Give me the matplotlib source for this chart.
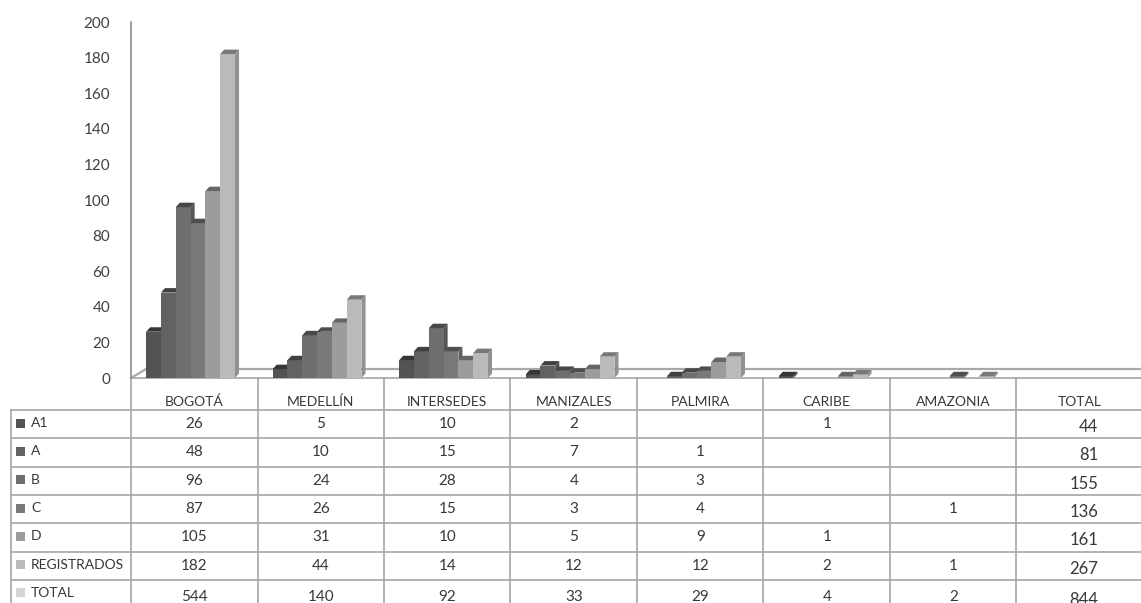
import matplotlib.pyplot as plt
import matplotlib.transforms as mtransforms
from matplotlib.patches import Polygon, Rectangle
from matplotlib.colors import to_rgb

plt.rcParams['font.family'] = ['Lato', 'DejaVu Sans']

# data (blank cells = None)
categories = ["BOGOTÁ", "MEDELLÍN", "INTERSEDES", "MANIZALES", "PALMIRA",
              "CARIBE", "AMAZONIA", "TOTAL"]
row_labels = ["A1", "A", "B", "C", "D", "REGISTRADOS", "TOTAL"]
a1 = [26, 5, 10, 2, None, 1, None, 44]
a = [48, 10, 15, 7, 1, None, None, 81]
b = [96, 24, 28, 4, 3, None, None, 155]
c = [87, 26, 15, 3, 4, None, 1, 136]
d = [105, 31, 10, 5, 9, 1, None, 161]
registrados = [182, 44, 14, 12, 12, 2, 1, 267]
total = [544, 140, 92, 33, 29, 4, 2, 844]

table_rows = [a1, a, b, c, d, registrados, total]
plotted = [a1, a, b, c, d, registrados]   # only these get columns
n_bar_cats = 7                            # TOTAL category has no columns
colors = ["#535353", "#626262", "#6e6e6e", "#797979", "#9c9c9c", "#bababa", "#d4d4d4"]


def shade(col, f):
    r, g, b_ = to_rgb(col)
    return (r * f, g * f, b_ * f)


W, H = 1141, 603
fig = plt.figure(figsize=(W / 100, H / 100), dpi=100)

# pixel overlay for the data table
tab = fig.add_axes([0, 0, 1, 1])
tab.set_xlim(0, W)
tab.set_ylim(H, 0)
tab.axis('off')

ax = fig.add_axes([131 / W, (H - 378) / H, 1012 / W, 356 / H])
ax.set_facecolor('none')
ax.set_xlim(-0.5, 7.5)
ax.set_ylim(0, 200)
ax.set_yticks(range(0, 201, 20))
ax.set_xticks([])
ax.tick_params(axis='y', length=0, pad=15, labelsize=11, labelcolor='#404040')
for s in ['top', 'right', 'bottom']:
    ax.spines[s].set_visible(False)
ax.spines['left'].set_color('#8c8c8c')
ax.spines['left'].set_linewidth(1.2)

# 3d floor edge
ax.plot([-0.5, -0.381, 7.5], [0, 5.05, 5.05], color='#a8a8a8', lw=1.6,
        clip_on=False, zorder=1)

# pseudo-3d columns
w = 0.117
dx, dy = 0.032, 2.5
for i in range(n_bar_cats):
    for j, series in enumerate(plotted):
        v = series[i]
        if not v:
            continue
        x0 = i - 0.029 + (j - 2.5) * w - w / 2
        x1 = x0 + w
        z = 2 + j
        col = colors[j]
        ax.add_patch(Polygon([(x1, 0), (x1 + dx, dy), (x1 + dx, v + dy), (x1, v)],
                             closed=True, fc=shade(col, 0.78), ec='none', zorder=z))
        ax.add_patch(Rectangle((x0, 0), w, v, fc=col, ec='none', zorder=z))
        ax.add_patch(Polygon([(x0, v), (x1, v), (x1 + dx, v + dy), (x0 + dx, v + dy)],
                             closed=True, fc=shade(col, 0.65), ec='none', zorder=z))

# data table
lc = '#a6a6a6'
tc = '#383838'
blend = mtransforms.blended_transform_factory(ax.transData, tab.transData)
top_y, head_y = 378, 410
row_h = 28.3
row_edges = [head_y + k * row_h for k in range(len(row_labels) + 1)]

tab.plot([131, W], [top_y, top_y], color=lc, lw=1.2)
for y in row_edges[:-1]:
    tab.plot([11, W], [y, y], color=lc, lw=1.2)
tab.plot([131, 131], [top_y, H], color=lc, lw=1.2)
tab.plot([11, 11], [head_y, H], color=lc, lw=1.2)
for k in range(len(categories) - 1):
    tab.plot([k + 0.5, k + 0.5], [top_y, H], color=lc, lw=1.2, transform=blend)

for k, name in enumerate(categories):
    tab.text(k, 402, name, ha='center', va='center', fontsize=10, color=tc,
             transform=blend)

for r, (lab, series) in enumerate(zip(row_labels, table_rows)):
    yc = (row_edges[r] + row_edges[r + 1]) / 2
    ty = yc + 3 if r == len(row_labels) - 1 else yc
    tab.add_patch(Rectangle((16, yc - 4.5 - 1), 9, 9, fc=colors[r], ec='none'))
    tab.text(31, yc - 1, lab, ha='left', va='center', fontsize=10, color=tc)
    for k, v in enumerate(series[:-1]):
        if v is None:
            continue
        tab.text(k, ty, str(v), ha='center', va='center', fontsize=11,
                 color=tc, transform=blend)
    tab.text(1098, ty + 3, str(series[-1]), ha='right', va='center',
             fontsize=12, color=tc)

fig.savefig('out.png', dpi=100)
